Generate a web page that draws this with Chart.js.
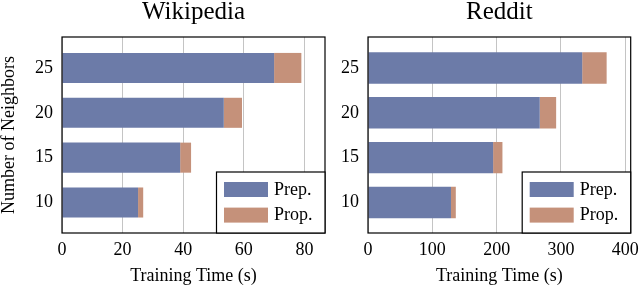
<!DOCTYPE html>
<html>
<head>
<meta charset="utf-8">
<script src="https://cdn.jsdelivr.net/npm/chart.js@4"></script>
<style>
  body { margin: 0; background: #fff; width: 640px; height: 285px; overflow: hidden; position: relative; }
  .panel { position: absolute; top: 0; height: 285px; }
</style>
</head>
<body>
<div class="panel" style="left:0;width:330px"><canvas id="wiki"></canvas></div>
<div class="panel" style="left:330px;width:310px"><canvas id="reddit"></canvas></div>
<script>
// data
const neighbors = [10, 15, 20, 25];
const wikiPrep = [25.1, 39.0, 53.4, 70.0];
const wikiProp = [1.7, 3.6, 6.0, 9.0];
const redditPrep = [129, 194.5, 267, 333];
const redditProp = [7.5, 14.5, 25.5, 38];
const wikiTicks = [0, 20, 40, 60, 80];
const redditTicks = [0, 100, 200, 300, 400];
const seriesNames = ['Prep.', 'Prop.'];

const FONT = '"Liberation Serif", "DejaVu Serif", serif';
const BLUE = 'rgb(108,123,168)';
const TAN = 'rgb(197,145,122)';

// box round the plot, title centred over the plot, legend in the lower right corner
const frame = {
  id: 'frame',
  afterDraw(chart, args, opts) {
    const { ctx, chartArea: a } = chart;
    ctx.save();
    ctx.fillStyle = '#000';
    ctx.font = '25px ' + FONT;
    ctx.textAlign = 'center';
    ctx.textBaseline = 'alphabetic';
    ctx.fillText(opts.title, (a.left + a.right) / 2, 18.5);

    ctx.strokeStyle = '#000';
    ctx.lineWidth = 1.2;
    ctx.strokeRect(a.left, a.top, a.right - a.left, a.bottom - a.top);
    const w = 108.5, h = 61;
    const x = a.right - w, y = a.bottom - h;
    ctx.fillStyle = '#fff';
    ctx.fillRect(x, y, w, h);
    ctx.strokeRect(x, y, w, h);
    ctx.font = '18px ' + FONT;
    ctx.textAlign = 'left';
    ctx.textBaseline = 'middle';
    chart.data.datasets.forEach((ds, i) => {
      const sy = y + 10 + i * 25.6;
      ctx.fillStyle = ds.backgroundColor;
      ctx.fillRect(x + 7.5, sy, 44, 15);
      ctx.fillStyle = '#000';
      ctx.fillText(ds.label, x + 57.5, sy + 8);
    });
    ctx.restore();
  }
};

function makeChart(id, prep, prop, xMax, xTicks, yWidth, yTitle, barPct, padRight, title) {
  return new Chart(document.getElementById(id), {
    type: 'bar',
    data: {
      labels: neighbors,
      datasets: [
        { label: seriesNames[0], data: prep, backgroundColor: BLUE, borderWidth: 0 },
        { label: seriesNames[1], data: prop, backgroundColor: TAN, borderWidth: 0 }
      ]
    },
    options: {
      indexAxis: 'y',
      responsive: true,
      maintainAspectRatio: false,
      animation: false,
      categoryPercentage: 1,
      barPercentage: barPct,
      layout: { padding: { top: 37, right: padRight, bottom: 0, left: 0 } },
      plugins: {
        legend: { display: false },
        tooltip: { enabled: false },
        frame: { title: title }
      },
      scales: {
        x: {
          type: 'linear',
          stacked: true,
          min: 0,
          max: xMax,
          afterBuildTicks: s => { s.ticks = xTicks.map(v => ({ value: v })); },
          afterFit: s => { s.height = 52; s.paddingLeft = 0; s.paddingRight = 0; },
          grid: { color: '#c4c4c4', lineWidth: 1, drawTicks: false },
          border: { display: false },
          ticks: { color: '#000', padding: 6, font: { family: FONT, size: 18 } },
          title: {
            display: true,
            text: 'Training Time (s)',
            color: '#000',
            font: { family: FONT, size: 18, lineHeight: 1 },
            padding: 0
          }
        },
        y: {
          type: 'linear',
          stacked: true,
          offset: false,
          min: 6.6,
          max: 28.45,
          afterBuildTicks: s => { s.ticks = neighbors.map(v => ({ value: v })); },
          afterFit: s => { s.width = yWidth; },
          grid: { display: false, drawTicks: false },
          border: { display: false },
          ticks: { color: '#000', padding: 9, font: { family: FONT, size: 18 } },
          title: {
            display: yTitle,
            text: 'Number of Neighbors',
            color: '#000',
            font: { family: FONT, size: 18, lineHeight: 1 },
            padding: 0
          }
        }
      }
    },
    plugins: [frame]
  });
}

makeChart('wiki', wikiPrep, wikiProp, 86.8, wikiTicks, 62, true, 0.67, 5, 'Wikipedia');
makeChart('reddit', redditPrep, redditProp, 408.4, redditTicks, 38, false, 0.7, 9.3, 'Reddit');
</script>
</body>
</html>
